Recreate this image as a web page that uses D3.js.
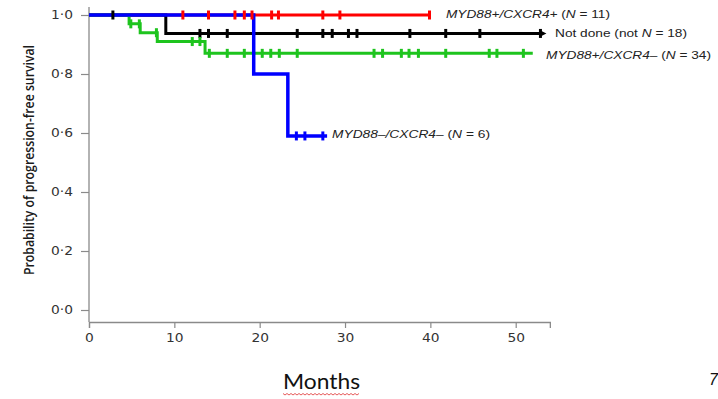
<!DOCTYPE html>
<html><head><meta charset="utf-8">
<script src="https://cdn.jsdelivr.net/npm/d3@7"></script>
<style>
html,body{margin:0;padding:0;background:#fff;}
svg{display:block;}
</style></head>
<body>
<svg id="chart" width="718" height="399"></svg>
<script>
// ---- data ----
const monthTicks = [0, 10, 20, 30, 40, 50];
const survTicks = [0, 0.2, 0.4, 0.6, 0.8, 1.0];

// MYD88+/CXCR4+ (red)
const redDropTimes = [0];
const redLevels = [1];
const redEnd = 39.9;
const redCensored = [11.0, 14.0, 17.1, 18.2, 19.1, 21.4, 22.2, 27.4, 29.4, 39.9];

// Not done (black)
const blackDropTimes = [0, 9.0];
const blackLevels = [1, 0.9375];
const blackEnd = 52.9;
const blackCensored = [2.8, 13.0, 14.0, 16.2, 24.4, 27.4, 28.5, 30.4, 31.4, 37.6, 41.8, 45.8, 52.9];

// MYD88+/CXCR4– (green)
const greenDropTimes = [0, 4.7, 6.0, 8.0, 13.6];
const greenLevels = [1, 0.97, 0.94, 0.91, 0.87];
const greenEnd = 52.0;
const greenCensored = [4.9, 5.9, 7.9, 12.1, 13.0, 14.1, 16.2, 18.2, 20.3, 21.3, 22.3, 24.4, 33.4, 34.4, 36.6, 37.5, 38.6, 41.8, 46.9, 47.8, 50.9];

// MYD88–/CXCR4– (blue)
const blueDropTimes = [0, 19.3, 23.3];
const blueLevels = [1, 0.8, 0.59];
const blueEnd = 27.9;
const blueCensored = [24.3, 25.3, 27.4];

const series = [
  {color: "#ff0000", width: 3, times: redDropTimes, levels: redLevels, end: redEnd, censored: redCensored},
  {color: "#000000", width: 3, times: blackDropTimes, levels: blackLevels, end: blackEnd, censored: blackCensored},
  {color: "#1ec41e", width: 3, times: greenDropTimes, levels: greenLevels, end: greenEnd, censored: greenCensored},
  {color: "#0000ff", width: 3.5, times: blueDropTimes, levels: blueLevels, end: blueEnd, censored: blueCensored}
];

// ---- layout ----
const svg = d3.select("#chart");
const x = d3.scaleLinear().domain([0, 54]).range([89, 89 + 54 * 8.534]);
const y = d3.scaleLinear().domain([0, 1]).range([310, 15]);
const axisColor = "#8a8a8a";
const fmt = d => d3.format(".1f")(d).replace(".", "·");

function stretch(sel, f) {
  sel.each(function () {
    const w = this.getComputedTextLength();
    d3.select(this).attr("textLength", w * f).attr("lengthAdjust", "spacingAndGlyphs");
  });
}

// y axis
const gy = svg.append("g").attr("transform", "translate(89,0)")
  .call(d3.axisLeft(y).tickValues(survTicks).tickFormat(fmt).tickSize(8).tickPadding(8));
gy.select(".domain").remove();
gy.selectAll(".tick line").attr("stroke", axisColor).attr("stroke-width", 1.2);
gy.selectAll(".tick text").attr("font-family", "DejaVu Sans, Verdana, sans-serif")
  .attr("font-size", 11.5).attr("fill", "#333");
stretch(gy.selectAll(".tick text"), 1.2);
svg.append("line").attr("x1", 89).attr("x2", 89).attr("y1", 7).attr("y2", 322)
  .attr("stroke", axisColor).attr("stroke-width", 1.3);

// x axis
const gx = svg.append("g").attr("transform", "translate(0,322)")
  .call(d3.axisBottom(x).tickValues(monthTicks).tickSize(6).tickPadding(6));
gx.select(".domain").attr("stroke", axisColor).attr("stroke-width", 1.3);
gx.selectAll(".tick line").attr("stroke", axisColor).attr("stroke-width", 1.2);
gx.selectAll(".tick text").attr("font-family", "DejaVu Sans, Verdana, sans-serif")
  .attr("font-size", 11.5).attr("fill", "#333");
stretch(gx.selectAll(".tick text"), 1.2);

// y title
svg.append("text")
  .attr("transform", "translate(34,160) rotate(-90)")
  .attr("text-anchor", "middle")
  .attr("font-family", "Open Sans, Lato, sans-serif")
  .attr("font-weight", 600)
  .attr("font-size", 14.5)
  .attr("fill", "#1a1a1a")
  .attr("textLength", 230).attr("lengthAdjust", "spacingAndGlyphs")
  .text("Probability of progression-free survival");

// x title
svg.append("text").attr("x", 283).attr("y", 389)
  .attr("font-family", "Lato, Open Sans, sans-serif").attr("font-size", 21)
  .attr("fill", "#111").attr("textLength", 77).attr("lengthAdjust", "spacingAndGlyphs")
  .text("Months");
// spell-check squiggle
const sq = d3.range(283, 361, 2).map((px, i) => [px, 394 + (i % 2 ? 1 : -0.5)]);
svg.append("path").attr("d", d3.line()(sq)).attr("fill", "none")
  .attr("stroke", "#e03030").attr("stroke-width", 0.8);

// page number fragment
svg.append("text").attr("x", 709).attr("y", 385)
  .attr("font-family", "Liberation Sans, Arial, sans-serif").attr("font-size", 16)
  .attr("font-style", "italic").attr("fill", "#111").text("7");

// ---- curves ----
const line = d3.line().x(d => x(d[0])).y(d => y(d[1])).curve(d3.curveStepAfter);
series.forEach(s => {
  const pts = s.times.map((t, i) => [t, s.levels[i]]);
  pts.push([s.end, s.levels[s.levels.length - 1]]);
  svg.append("path").attr("d", line(pts)).attr("fill", "none")
    .attr("stroke", s.color).attr("stroke-width", s.width).attr("stroke-linejoin", "miter");
});
const levelAt = (s, t) => {
  let lv = s.levels[0];
  s.times.forEach((tt, i) => { if (tt <= t) lv = s.levels[i]; });
  return lv;
};
series.forEach(s => {
  svg.append("g").selectAll("line").data(s.censored).join("line")
    .attr("x1", d => x(d)).attr("x2", d => x(d))
    .attr("y1", d => y(levelAt(s, d)) - 4.5).attr("y2", d => y(levelAt(s, d)) + 4.5)
    .attr("stroke", s.color).attr("stroke-width", 3);
});
// black arrowhead at end
svg.append("path")
  .attr("d", d3.line()([[x(blackEnd), y(0.9375) - 3], [x(blackEnd) + 6, y(0.9375)], [x(blackEnd), y(0.9375) + 3]]))
  .attr("fill", "#000");

// ---- labels ----
const labels = [
  {x: 446, y: 18, w: 164, parts: [["MYD88+/CXCR4+", true], [" (", false], ["N", true], [" = 11)", false]]},
  {x: 555, y: 37, w: 132, parts: [["Not done (not ", false], ["N", true], [" = 18)", false]]},
  {x: 546, y: 59, w: 165, parts: [["MYD88+/CXCR4–", true], [" (", false], ["N", true], [" = 34)", false]]},
  {x: 332, y: 138, w: 158, parts: [["MYD88–/CXCR4–", true], [" (", false], ["N", true], [" = 6)", false]]}
];
labels.forEach(l => {
  const t = svg.append("text").attr("x", l.x).attr("y", l.y)
    .attr("font-family", "Liberation Sans, Arial, sans-serif").attr("font-size", 11)
    .attr("fill", "#222").attr("textLength", l.w).attr("lengthAdjust", "spacingAndGlyphs");
  l.parts.forEach(p => t.append("tspan").attr("font-style", p[1] ? "italic" : "normal").text(p[0]));
});
</script>
</body></html>
